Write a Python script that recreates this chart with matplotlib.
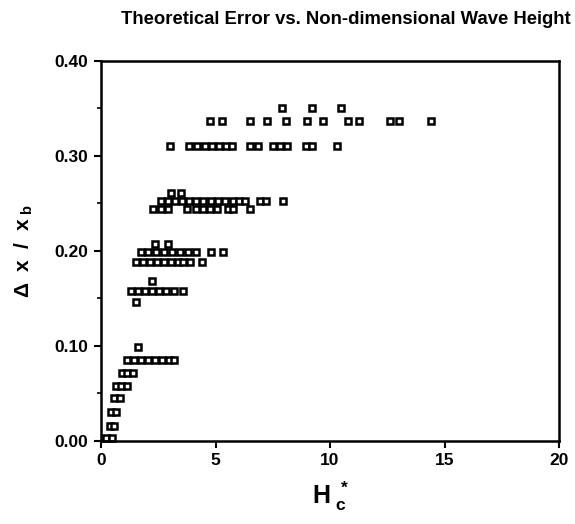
import matplotlib.pyplot as plt
from matplotlib.ticker import MultipleLocator

# error levels (dx / xb) and the Hc* values at which each level occurs
dx_levels = [0.003, 0.016, 0.031, 0.045, 0.058, 0.072, 0.085, 0.099,
             0.146, 0.158, 0.168, 0.188, 0.199, 0.207, 0.244, 0.253,
             0.261, 0.310, 0.337, 0.350]

hc_by_level = [
    [0.22, 0.48],
    [0.39, 0.57],
    [0.44, 0.66],
    [0.57, 0.83],
    [0.66, 0.87, 1.14],
    [0.92, 1.14, 1.40],
    [1.14, 1.44, 1.75, 2.05, 2.36, 2.66, 2.97, 3.19],
    [1.62],
    [1.53],
    [1.31, 1.62, 1.92, 2.23, 2.53, 2.84, 3.19, 3.58],
    [2.23],
    [1.53, 1.83, 2.14, 2.45, 2.75, 3.06, 3.36, 3.58, 3.89, 4.41],
    [1.75, 2.05, 2.40, 2.75, 3.10, 3.45, 3.80, 4.15, 4.80, 5.33],
    [2.36, 2.93],
    [2.27, 2.62, 2.93, 3.76, 4.15, 4.45, 4.76, 5.07, 5.55, 5.76, 6.51],
    [2.62, 2.93, 3.23, 3.54, 3.84, 4.15, 4.45, 4.80, 5.11, 5.41, 5.76,
     6.03, 6.29, 6.94, 7.21, 7.95],
    [3.06, 3.49],
    [3.01, 3.84, 4.19, 4.54, 4.85, 5.15, 5.46, 5.72, 6.51, 6.86, 7.51,
     7.82, 8.12, 8.95, 9.21, 10.31],
    [4.76, 5.28, 6.51, 7.25, 8.08, 9.00, 9.69, 10.79, 11.27, 12.62,
     13.00, 14.41],
    [7.90, 9.20, 10.50],
]

x_ticks = [0, 5, 10, 15, 20]
y_ticks = [0.00, 0.10, 0.20, 0.30, 0.40]

plt.rcParams['font.family'] = ['Liberation Sans', 'DejaVu Sans']
plt.rcParams['font.weight'] = 'bold'
plt.rcParams['mathtext.fontset'] = 'custom'
plt.rcParams['mathtext.rm'] = 'Liberation Sans:bold'
plt.rcParams['mathtext.it'] = 'Liberation Sans:bold'
plt.rcParams['mathtext.bf'] = 'Liberation Sans:bold'

fig = plt.figure(figsize=(5.75, 5.24), dpi=100)
ax = fig.add_axes([0.1757, 0.1584, 0.7965, 0.7252])

for level, hcs in zip(dx_levels, hc_by_level):
    ax.plot(hcs, [level] * len(hcs), linestyle='none', marker='s',
            markersize=4.4, markerfacecolor='white', markeredgecolor='black',
            markeredgewidth=1.8, clip_on=False)

ax.set_xlim(0, 20)
ax.set_ylim(0, 0.40)
ax.set_xticks(x_ticks)
ax.set_xticklabels([str(t) for t in x_ticks])
ax.set_yticks(y_ticks)
ax.set_yticklabels([f"{t:.2f}" for t in y_ticks])
ax.yaxis.set_minor_locator(MultipleLocator(0.05))

for side in ['left', 'bottom', 'top', 'right']:
    ax.spines[side].set_linewidth(1.8)

ax.tick_params(axis='both', which='major', direction='out', length=5,
               width=1.5, labelsize=12.5, pad=4)
ax.tick_params(axis='y', which='minor', direction='out', length=3, width=1.2)
for lbl in ax.get_xticklabels() + ax.get_yticklabels():
    lbl.set_fontweight('bold')

ax.set_xlabel(r'$H_{\ c}^{\ *}$', fontsize=18, labelpad=8)
ax.set_ylabel(r'$\Delta$  x  /  x$_{\ b}$', fontsize=15, fontweight='bold',
              labelpad=14)

fig.text(0.602, 0.962, 'Theoretical Error vs. Non-dimensional Wave Height',
         ha='center', va='center', fontsize=13.3, fontweight='bold')

fig.savefig('out.png', dpi=100)
